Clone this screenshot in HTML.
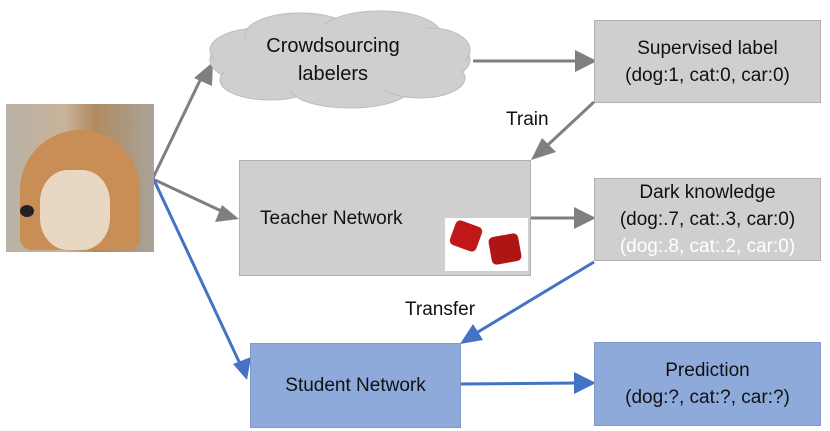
<!DOCTYPE html>
<html><head><style>
body{margin:0;width:830px;height:431px;background:#fff;overflow:hidden;font-family:"Liberation Sans",sans-serif;}
.b{position:absolute;box-sizing:border-box;border:1.5px solid #b0b0b0;background:#d0cfd0;display:flex;flex-direction:column;align-items:center;justify-content:center;font-size:19px;line-height:27px;color:#111;text-align:center;}
.blue{background:#8eaadb;border-color:#7f98c8;}
.t{position:absolute;font-size:19px;color:#111;}
</style></head><body>
<svg width="830" height="431" style="position:absolute;left:0;top:0">
<g stroke="#7f7f7f" stroke-width="3" fill="none">
<path d="M153,178 L205,70"/>
<path d="M155,180 L232,216"/>
<path d="M473,61 L588,61"/>
<path d="M594,102 L537,155"/>
<path d="M530,218 L588,218"/>
</g>
<g fill="#7f7f7f">
<polygon points="213,62 212,86 194,78"/>
<polygon points="239,219 215,222 222,205"/>
<polygon points="597,61 575,50 575,72"/>
<polygon points="531,160 542,138 556,152"/>
<polygon points="596,218 574,207 574,229"/>
</g>
<g stroke="#4472c4" stroke-width="3" fill="none">
<path d="M153,178 L242,368"/>
<path d="M594,262 L468,338"/>
<path d="M460,384 L578,383"/>
</g>
<g fill="#4472c4">
<polygon points="247,380 233,364 251,357"/>
<polygon points="460,344 473,324 483,340"/>
<polygon points="596,383 574,372 574,394"/>
</g>
<g fill="#d0cfd0" stroke="#bdbdbd" stroke-width="1">
<ellipse cx="340" cy="60" rx="130" ry="36"/>
<ellipse cx="260" cy="50" rx="50" ry="22"/>
<ellipse cx="300" cy="35" rx="55" ry="22"/>
<ellipse cx="380" cy="33" rx="60" ry="22"/>
<ellipse cx="430" cy="50" rx="40" ry="22"/>
<ellipse cx="270" cy="80" rx="50" ry="20"/>
<ellipse cx="350" cy="88" rx="60" ry="20"/>
<ellipse cx="420" cy="78" rx="45" ry="20"/>
</g>
<ellipse cx="340" cy="60" rx="125" ry="33" fill="#d0cfd0"/>
<ellipse cx="300" cy="40" rx="50" ry="18" fill="#d0cfd0"/>
<ellipse cx="380" cy="38" rx="55" ry="18" fill="#d0cfd0"/>
</svg>
<div class="t" style="left:248px;top:32px;line-height:28px;font-size:20px;text-align:center;width:170px;">Crowdsourcing<br>labelers</div>
<div style="position:absolute;left:6px;top:104px;width:148px;height:148px;background:linear-gradient(90deg,#b8b1a6,#c9b39a 40%,#b08a60 60%,#a9a39a);"></div>
<div style="position:absolute;left:20px;top:130px;width:120px;height:120px;border-radius:50% 50% 10% 10%;background:#c88e55;"></div>
<div style="position:absolute;left:40px;top:170px;width:70px;height:80px;border-radius:40%;background:#e8d7c3;"></div>
<div style="position:absolute;left:20px;top:205px;width:14px;height:12px;border-radius:50%;background:#222;"></div>
<div class="b" style="left:239px;top:160px;width:292px;height:116px;align-items:flex-start;padding-left:20px;">Teacher Network</div>
<div style="position:absolute;left:445px;top:218px;width:83px;height:53px;background:#fff;"></div>
<div style="position:absolute;left:452px;top:223px;width:28px;height:26px;background:#c01818;border-radius:5px;transform:rotate(20deg);"></div>
<div style="position:absolute;left:490px;top:235px;width:30px;height:28px;background:#b01515;border-radius:5px;transform:rotate(-10deg);"></div>
<div class="b" style="left:594px;top:20px;width:227px;height:83px;">Supervised label<br>(dog:1, cat:0, car:0)</div>
<div class="b" style="left:594px;top:178px;width:227px;height:83px;">Dark knowledge<br>(dog:.7, cat:.3, car:0)<br><span style="color:#fff">(dog:.8, cat:.2, car:0)</span></div>
<div class="b blue" style="left:250px;top:343px;width:211px;height:85px;">Student Network</div>
<div class="b blue" style="left:594px;top:342px;width:227px;height:84px;">Prediction<br>(dog:?, cat:?, car:?)</div>
<div class="t" style="left:506px;top:109px;">Train</div>
<div class="t" style="left:405px;top:299px;">Transfer</div>
</body></html>
